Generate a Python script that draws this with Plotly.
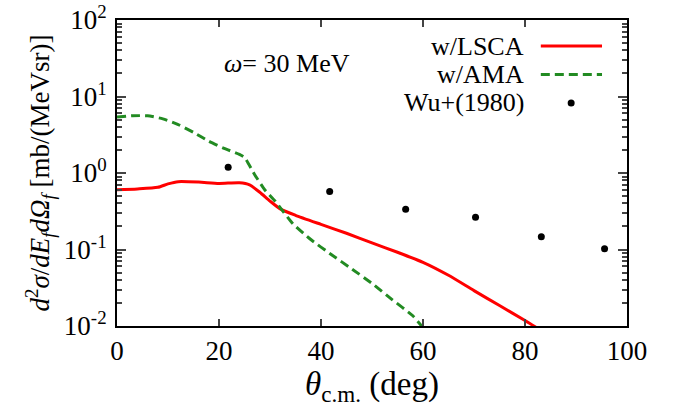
import plotly.graph_objects as go

# Angular distribution, omega = 30 MeV
theta_lsca = [0, 4, 8, 10, 12, 16, 20, 24, 26, 28, 30, 32, 35, 40, 45, 50, 55, 60, 65, 70, 75, 80, 82.5]
xs_lsca = [0.605, 0.62, 0.65, 0.72, 0.77, 0.76, 0.73, 0.745, 0.70, 0.56, 0.43, 0.34, 0.28, 0.213,
           0.163, 0.122, 0.092, 0.068, 0.046, 0.029, 0.0185, 0.0118, 0.0093]

theta_ama = [0, 3, 6, 9, 12, 15, 18, 21, 24, 25, 27, 29, 31, 34.5, 38, 42, 46, 50, 54, 58, 60]
xs_ama = [5.4, 5.6, 5.6, 5.1, 4.3, 3.4, 2.6, 2.1, 1.75, 1.6, 0.95, 0.6, 0.43, 0.217, 0.135,
          0.086, 0.056, 0.036, 0.022, 0.0136, 0.0095]

theta_wu = [21.8, 41.7, 56.6, 70.3, 83.2, 95.6]
xs_wu = [1.19, 0.575, 0.337, 0.263, 0.147, 0.102]

ytick_vals = [1e-2, 1e-1, 1e0, 1e1, 1e2]
ytick_text = ["10<sup>-2</sup>", "10<sup>-1</sup>", "10<sup>0</sup>", "10<sup>1</sup>", "10<sup>2</sup>"]

legend_names = ["w/LSCA", "w/AMA", "Wu+(1980)"]

FONT = "Liberation Serif"
RED = "#ff0000"
GREEN = "#228b22"

fig = go.Figure()
fig.add_trace(go.Scatter(x=theta_lsca, y=xs_lsca, mode="lines", name=legend_names[0],
                         line=dict(color=RED, width=3, shape="spline", smoothing=0.6)))
fig.add_trace(go.Scatter(x=theta_ama, y=xs_ama, mode="lines", name=legend_names[1],
                         line=dict(color=GREEN, width=3, dash="9px,5px", shape="spline", smoothing=0.5)))
fig.add_trace(go.Scatter(x=theta_wu, y=xs_wu, mode="markers", name=legend_names[2],
                         marker=dict(color="black", size=7)))

minor_vals = [m * 10 ** e for e in range(-2, 2) for m in range(2, 10)]

fig.update_xaxes(range=[0, 100], dtick=20, ticks="inside", ticklen=7, tickwidth=1.5,
                 showline=True, linewidth=2, linecolor="black", mirror="ticks",
                 showgrid=False, zeroline=False, ticklabelstandoff=0, automargin=False,
                 tickfont=dict(family=FONT, size=27, color="black"),
                 title=dict(text="<i>θ</i><sub>c.m.</sub> (deg)",
                            font=dict(family=FONT, size=33, color="black"), standoff=0))
fig.update_yaxes(type="log", range=[-2, 2], tickvals=ytick_vals, ticktext=ytick_text,
                 ticks="inside", ticklen=9, tickwidth=1.5,
                 minor=dict(tickvals=minor_vals, ticks="inside", ticklen=5, tickwidth=1.5,
                            showgrid=False),
                 showline=True, linewidth=2, linecolor="black", mirror="ticks",
                 showgrid=False, zeroline=False, ticklabelstandoff=3, automargin=False,
                 tickfont=dict(family=FONT, size=27, color="black"),
                 title=dict(text="<i>d</i><sup>2</sup><i>σ</i>/<i>dE<sub>f</sub>dΩ<sub>f</sub></i> [mb/(MeVsr)]",
                            font=dict(family=FONT, size=27, color="black"), standoff=6))

# Legend drawn with text on the left, sample on the right
legend_y = [0.915, 0.822, 0.729]
annotations = [
    dict(x=0.205, y=0.858, xref="paper", yref="paper", xanchor="left", yanchor="middle",
         text="<i>ω</i>= 30 MeV", showarrow=False, font=dict(family=FONT, size=26, color="black")),
]
for name, yy in zip(legend_names, legend_y):
    annotations.append(dict(x=0.801, y=yy, xref="paper", yref="paper", xanchor="right",
                            yanchor="middle", text=name, showarrow=False,
                            font=dict(family=FONT, size=26, color="black")))

shapes = [
    dict(type="line", xref="paper", yref="paper", x0=0.831, x1=0.951, y0=legend_y[0], y1=legend_y[0],
         line=dict(color=RED, width=3)),
    dict(type="line", xref="paper", yref="paper", x0=0.831, x1=0.951, y0=legend_y[1], y1=legend_y[1],
         line=dict(color=GREEN, width=3, dash="9px,5px")),
    dict(type="circle", xref="paper", yref="paper", xsizemode="pixel", ysizemode="pixel",
         xanchor=0.8905, yanchor=legend_y[2], x0=-3.5, x1=3.5, y0=-3.5, y1=3.5,
         line=dict(color="black", width=0), fillcolor="black"),
]

fig.update_layout(width=678, height=408, margin=dict(l=117, r=51, t=20, b=82),
                  plot_bgcolor="white", paper_bgcolor="white", showlegend=False,
                  annotations=annotations, shapes=shapes)

fig.write_html("out.html")
